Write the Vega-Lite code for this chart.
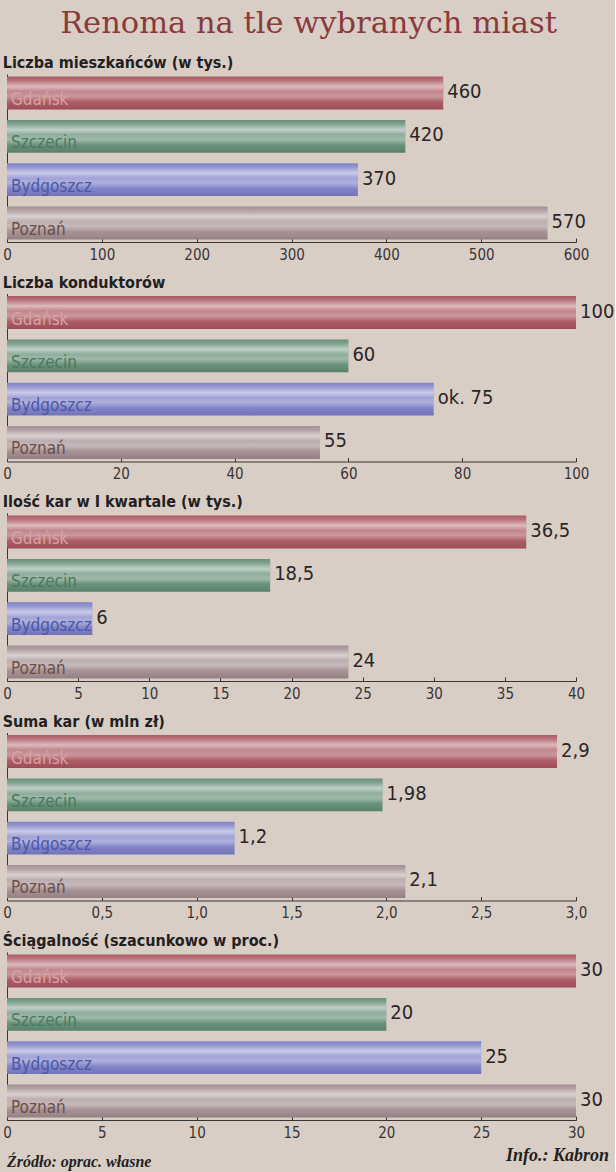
{
  "$schema": "https://vega.github.io/schema/vega-lite/v6.json",
  "background": "#d9cec6",
  "padding": {"left": 2, "top": 8, "right": 0, "bottom": 0},
  "bounds": "flush",
  "title": {"text": "Renoma na tle wybranych miast", "font": "DejaVu Serif", "fontSize": 30.5, "fontWeight": "normal", "color": "#8b3a3c", "anchor": "middle", "offset": 16},
  "config": {
    "view": {"stroke": null},
    "font": "DejaVu Sans Condensed, Roboto, sans-serif",
    "title": {"font": "DejaVu Sans Condensed, Roboto, sans-serif"},
    "axis": {"domainColor": "#3a3535", "tickColor": "#3a3535", "labelColor": "#3a3535", "labelFont": "DejaVu Sans Condensed, Roboto, sans-serif", "labelFontSize": 15, "labelFlush": false, "grid": false, "zindex": 0},
    "concat": {"spacing": 51.5}
  },
  "datasets": {
    "d": [
      {"m": 1, "city": "Gdańsk", "v": 460, "label": "460"},
      {"m": 1, "city": "Szczecin", "v": 420, "label": "420"},
      {"m": 1, "city": "Bydgoszcz", "v": 370, "label": "370"},
      {"m": 1, "city": "Poznań", "v": 570, "label": "570"},
      {"m": 2, "city": "Gdańsk", "v": 100, "label": "100"},
      {"m": 2, "city": "Szczecin", "v": 60, "label": "60"},
      {"m": 2, "city": "Bydgoszcz", "v": 75, "label": "ok. 75"},
      {"m": 2, "city": "Poznań", "v": 55, "label": "55"},
      {"m": 3, "city": "Gdańsk", "v": 36.5, "label": "36,5"},
      {"m": 3, "city": "Szczecin", "v": 18.5, "label": "18,5"},
      {"m": 3, "city": "Bydgoszcz", "v": 6, "label": "6"},
      {"m": 3, "city": "Poznań", "v": 24, "label": "24"},
      {"m": 4, "city": "Gdańsk", "v": 2.9, "label": "2,9"},
      {"m": 4, "city": "Szczecin", "v": 1.98, "label": "1,98"},
      {"m": 4, "city": "Bydgoszcz", "v": 1.2, "label": "1,2"},
      {"m": 4, "city": "Poznań", "v": 2.1, "label": "2,1"},
      {"m": 5, "city": "Gdańsk", "v": 30, "label": "30"},
      {"m": 5, "city": "Szczecin", "v": 20, "label": "20"},
      {"m": 5, "city": "Bydgoszcz", "v": 25, "label": "25"},
      {"m": 5, "city": "Poznań", "v": 30, "label": "30"}
    ]
  },
  "data": {"name": "d"},
  "vconcat": [
    {
      "title": {"text": "Liczba mieszkańców (w tys.)", "anchor": "start", "fontSize": 16, "fontWeight": "bold", "color": "#231f1f", "offset": 3},
      "width": 569, "height": 168,
      "transform": [{"filter": "datum.m == 1"}],
      "encoding": {
        "y": {"field": "city", "type": "nominal", "sort": null, "scale": {"paddingInner": 0.24, "paddingOuter": 0.06}, "axis": {"labels": false, "ticks": false, "title": null}},
        "x": {"field": "v", "type": "quantitative", "scale": {"domain": [0, 600], "nice": false}, "axis": {"values": [0, 100, 200, 300, 400, 500, 600], "title": null, "tickSize": -4, "labelPadding": 9}}
      },
      "layer": [
        {"mark": {"type": "bar"}, "encoding": {"color": {"field": "city", "type": "nominal", "legend": null, "scale": {"domain": ["Gdańsk", "Szczecin", "Bydgoszcz", "Poznań"], "range": ["#a8525c", "#5f8a72", "#7a7cc4", "#a08a8e"]}}}},
        {"mark": {"type": "bar", "fill": {"gradient": "linear", "x1": 0, "y1": 0, "x2": 0, "y2": 1, "stops": [{"offset": 0, "color": "rgba(255,255,255,0.05)"}, {"offset": 0.12, "color": "rgba(255,255,255,0.2)"}, {"offset": 0.3, "color": "rgba(255,255,255,0.6)"}, {"offset": 0.45, "color": "rgba(255,255,255,0.3)"}, {"offset": 0.6, "color": "rgba(255,255,255,0.4)"}, {"offset": 0.78, "color": "rgba(255,255,255,0.05)"}, {"offset": 1, "color": "rgba(0,0,0,0.08)"}]}}},
        {"mark": {"type": "text", "align": "left", "baseline": "middle", "dx": 4, "dy": 7, "fontSize": 17}, "encoding": {"x": {"datum": 0}, "text": {"field": "city"}, "fill": {"field": "city", "type": "nominal", "legend": null, "scale": {"domain": ["Gdańsk", "Szczecin", "Bydgoszcz", "Poznań"], "range": ["#d4a4a4", "#4a7a62", "#4b58a8", "#6b5048"]}}}},
        {"mark": {"type": "text", "align": "left", "baseline": "middle", "dx": 4, "dy": -1, "fontSize": 20, "color": "#2b2626"}, "encoding": {"text": {"field": "label"}}}
      ]
    },
    {
      "title": {"text": "Liczba konduktorów", "anchor": "start", "fontSize": 16, "fontWeight": "bold", "color": "#231f1f", "offset": 3},
      "width": 569, "height": 168,
      "transform": [{"filter": "datum.m == 2"}],
      "encoding": {
        "y": {"field": "city", "type": "nominal", "sort": null, "scale": {"paddingInner": 0.24, "paddingOuter": 0.06}, "axis": {"labels": false, "ticks": false, "title": null}},
        "x": {"field": "v", "type": "quantitative", "scale": {"domain": [0, 100], "nice": false}, "axis": {"values": [0, 20, 40, 60, 80, 100], "title": null, "tickSize": -4, "labelPadding": 9}}
      },
      "layer": [
        {"mark": {"type": "bar"}, "encoding": {"color": {"field": "city", "type": "nominal", "legend": null, "scale": {"domain": ["Gdańsk", "Szczecin", "Bydgoszcz", "Poznań"], "range": ["#a8525c", "#5f8a72", "#7a7cc4", "#a08a8e"]}}}},
        {"mark": {"type": "bar", "fill": {"gradient": "linear", "x1": 0, "y1": 0, "x2": 0, "y2": 1, "stops": [{"offset": 0, "color": "rgba(255,255,255,0.05)"}, {"offset": 0.12, "color": "rgba(255,255,255,0.2)"}, {"offset": 0.3, "color": "rgba(255,255,255,0.6)"}, {"offset": 0.45, "color": "rgba(255,255,255,0.3)"}, {"offset": 0.6, "color": "rgba(255,255,255,0.4)"}, {"offset": 0.78, "color": "rgba(255,255,255,0.05)"}, {"offset": 1, "color": "rgba(0,0,0,0.08)"}]}}},
        {"mark": {"type": "text", "align": "left", "baseline": "middle", "dx": 4, "dy": 7, "fontSize": 17}, "encoding": {"x": {"datum": 0}, "text": {"field": "city"}, "fill": {"field": "city", "type": "nominal", "legend": null, "scale": {"domain": ["Gdańsk", "Szczecin", "Bydgoszcz", "Poznań"], "range": ["#d4a4a4", "#4a7a62", "#4b58a8", "#6b5048"]}}}},
        {"mark": {"type": "text", "align": "left", "baseline": "middle", "dx": 4, "dy": -1, "fontSize": 20, "color": "#2b2626"}, "encoding": {"text": {"field": "label"}}}
      ]
    },
    {
      "title": {"text": "Ilość kar w I kwartale (w tys.)", "anchor": "start", "fontSize": 16, "fontWeight": "bold", "color": "#231f1f", "offset": 3},
      "width": 569, "height": 168,
      "transform": [{"filter": "datum.m == 3"}],
      "encoding": {
        "y": {"field": "city", "type": "nominal", "sort": null, "scale": {"paddingInner": 0.24, "paddingOuter": 0.06}, "axis": {"labels": false, "ticks": false, "title": null}},
        "x": {"field": "v", "type": "quantitative", "scale": {"domain": [0, 40], "nice": false}, "axis": {"values": [0, 5, 10, 15, 20, 25, 30, 35, 40], "title": null, "tickSize": -4, "labelPadding": 9}}
      },
      "layer": [
        {"mark": {"type": "bar"}, "encoding": {"color": {"field": "city", "type": "nominal", "legend": null, "scale": {"domain": ["Gdańsk", "Szczecin", "Bydgoszcz", "Poznań"], "range": ["#a8525c", "#5f8a72", "#7a7cc4", "#a08a8e"]}}}},
        {"mark": {"type": "bar", "fill": {"gradient": "linear", "x1": 0, "y1": 0, "x2": 0, "y2": 1, "stops": [{"offset": 0, "color": "rgba(255,255,255,0.05)"}, {"offset": 0.12, "color": "rgba(255,255,255,0.2)"}, {"offset": 0.3, "color": "rgba(255,255,255,0.6)"}, {"offset": 0.45, "color": "rgba(255,255,255,0.3)"}, {"offset": 0.6, "color": "rgba(255,255,255,0.4)"}, {"offset": 0.78, "color": "rgba(255,255,255,0.05)"}, {"offset": 1, "color": "rgba(0,0,0,0.08)"}]}}},
        {"mark": {"type": "text", "align": "left", "baseline": "middle", "dx": 4, "dy": 7, "fontSize": 17}, "encoding": {"x": {"datum": 0}, "text": {"field": "city"}, "fill": {"field": "city", "type": "nominal", "legend": null, "scale": {"domain": ["Gdańsk", "Szczecin", "Bydgoszcz", "Poznań"], "range": ["#d4a4a4", "#4a7a62", "#4b58a8", "#6b5048"]}}}},
        {"mark": {"type": "text", "align": "left", "baseline": "middle", "dx": 4, "dy": -1, "fontSize": 20, "color": "#2b2626"}, "encoding": {"text": {"field": "label"}}}
      ]
    },
    {
      "title": {"text": "Suma kar (w mln zł)", "anchor": "start", "fontSize": 16, "fontWeight": "bold", "color": "#231f1f", "offset": 3},
      "width": 569, "height": 168,
      "transform": [{"filter": "datum.m == 4"}],
      "encoding": {
        "y": {"field": "city", "type": "nominal", "sort": null, "scale": {"paddingInner": 0.24, "paddingOuter": 0.06}, "axis": {"labels": false, "ticks": false, "title": null}},
        "x": {"field": "v", "type": "quantitative", "scale": {"domain": [0, 3], "nice": false}, "axis": {"values": [0, 0.5, 1, 1.5, 2, 2.5, 3], "labelExpr": "datum.value == 0 ? '0' : replace(format(datum.value, '.1f'), '.', ',')", "title": null, "tickSize": -4, "labelPadding": 9}}
      },
      "layer": [
        {"mark": {"type": "bar"}, "encoding": {"color": {"field": "city", "type": "nominal", "legend": null, "scale": {"domain": ["Gdańsk", "Szczecin", "Bydgoszcz", "Poznań"], "range": ["#a8525c", "#5f8a72", "#7a7cc4", "#a08a8e"]}}}},
        {"mark": {"type": "bar", "fill": {"gradient": "linear", "x1": 0, "y1": 0, "x2": 0, "y2": 1, "stops": [{"offset": 0, "color": "rgba(255,255,255,0.05)"}, {"offset": 0.12, "color": "rgba(255,255,255,0.2)"}, {"offset": 0.3, "color": "rgba(255,255,255,0.6)"}, {"offset": 0.45, "color": "rgba(255,255,255,0.3)"}, {"offset": 0.6, "color": "rgba(255,255,255,0.4)"}, {"offset": 0.78, "color": "rgba(255,255,255,0.05)"}, {"offset": 1, "color": "rgba(0,0,0,0.08)"}]}}},
        {"mark": {"type": "text", "align": "left", "baseline": "middle", "dx": 4, "dy": 7, "fontSize": 17}, "encoding": {"x": {"datum": 0}, "text": {"field": "city"}, "fill": {"field": "city", "type": "nominal", "legend": null, "scale": {"domain": ["Gdańsk", "Szczecin", "Bydgoszcz", "Poznań"], "range": ["#d4a4a4", "#4a7a62", "#4b58a8", "#6b5048"]}}}},
        {"mark": {"type": "text", "align": "left", "baseline": "middle", "dx": 4, "dy": -1, "fontSize": 20, "color": "#2b2626"}, "encoding": {"text": {"field": "label"}}}
      ]
    },
    {
      "title": {"text": "Ściągalność (szacunkowo w proc.)", "anchor": "start", "fontSize": 16, "fontWeight": "bold", "color": "#231f1f", "offset": 3},
      "width": 569, "height": 168,
      "transform": [{"filter": "datum.m == 5"}],
      "encoding": {
        "y": {"field": "city", "type": "nominal", "sort": null, "scale": {"paddingInner": 0.24, "paddingOuter": 0.06}, "axis": {"labels": false, "ticks": false, "title": null}},
        "x": {"field": "v", "type": "quantitative", "scale": {"domain": [0, 30], "nice": false}, "axis": {"values": [0, 5, 10, 15, 20, 25, 30], "title": null, "tickSize": -4, "labelPadding": 9}}
      },
      "layer": [
        {"mark": {"type": "bar"}, "encoding": {"color": {"field": "city", "type": "nominal", "legend": null, "scale": {"domain": ["Gdańsk", "Szczecin", "Bydgoszcz", "Poznań"], "range": ["#a8525c", "#5f8a72", "#7a7cc4", "#a08a8e"]}}}},
        {"mark": {"type": "bar", "fill": {"gradient": "linear", "x1": 0, "y1": 0, "x2": 0, "y2": 1, "stops": [{"offset": 0, "color": "rgba(255,255,255,0.05)"}, {"offset": 0.12, "color": "rgba(255,255,255,0.2)"}, {"offset": 0.3, "color": "rgba(255,255,255,0.6)"}, {"offset": 0.45, "color": "rgba(255,255,255,0.3)"}, {"offset": 0.6, "color": "rgba(255,255,255,0.4)"}, {"offset": 0.78, "color": "rgba(255,255,255,0.05)"}, {"offset": 1, "color": "rgba(0,0,0,0.08)"}]}}},
        {"mark": {"type": "text", "align": "left", "baseline": "middle", "dx": 4, "dy": 7, "fontSize": 17}, "encoding": {"x": {"datum": 0}, "text": {"field": "city"}, "fill": {"field": "city", "type": "nominal", "legend": null, "scale": {"domain": ["Gdańsk", "Szczecin", "Bydgoszcz", "Poznań"], "range": ["#d4a4a4", "#4a7a62", "#4b58a8", "#6b5048"]}}}},
        {"mark": {"type": "text", "align": "left", "baseline": "middle", "dx": 4, "dy": -1, "fontSize": 20, "color": "#2b2626"}, "encoding": {"text": {"field": "label"}}}
      ]
    },
    {
      "width": 602, "height": 12,
      "layer": [
        {"data": {"values": [{"t": "Źródło: oprac. własne", "p": 0}]}, "mark": {"type": "text", "align": "left", "baseline": "middle", "dy": -16, "font": "Liberation Serif", "fontStyle": "italic", "fontWeight": "bold", "fontSize": 16, "color": "#231f1f"}, "encoding": {"x": {"field": "p", "type": "quantitative", "scale": {"domain": [0, 1]}, "axis": null}, "text": {"field": "t"}}},
        {"data": {"values": [{"t": "Info.: Kabron", "p": 1}]}, "mark": {"type": "text", "align": "right", "baseline": "middle", "dy": -22, "font": "Liberation Serif", "fontStyle": "italic", "fontWeight": "bold", "fontSize": 18, "color": "#231f1f"}, "encoding": {"x": {"field": "p", "type": "quantitative", "scale": {"domain": [0, 1]}, "axis": null}, "text": {"field": "t"}}}
      ]
    }
  ]
}
